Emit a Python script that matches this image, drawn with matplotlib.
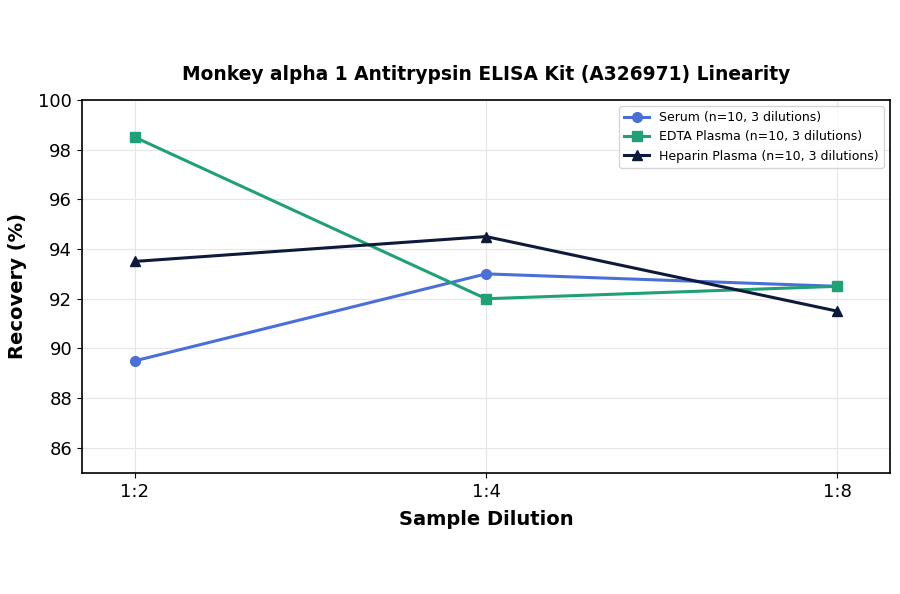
import matplotlib
matplotlib.use('Agg')
import matplotlib.pyplot as plt

dilutions = ['1:2', '1:4', '1:8']
serum = [89.5, 93.0, 92.5]
edta = [98.5, 92.0, 92.5]
heparin = [93.5, 94.5, 91.5]

fig = plt.figure(figsize=(9, 5.94), dpi=100)
ax = fig.add_axes([0.091, 0.204, 0.898, 0.628])

x = range(len(dilutions))
ax.plot(x, serum, color='#4a6fd9', marker='o', markersize=7, linewidth=2.2,
        label='Serum (n=10, 3 dilutions)')
ax.plot(x, edta, color='#20a077', marker='s', markersize=7, linewidth=2.2,
        label='EDTA Plasma (n=10, 3 dilutions)')
ax.plot(x, heparin, color='#0e1a3c', marker='^', markersize=7, linewidth=2.2,
        label='Heparin Plasma (n=10, 3 dilutions)')

ax.set_xticks(list(x))
ax.set_xticklabels(dilutions)
ax.set_xlim(-0.15, 2.15)
ax.set_ylim(85, 100)
ax.set_yticks([86, 88, 90, 92, 94, 96, 98, 100])
ax.tick_params(labelsize=13)
ax.grid(True, color='#e6e6e6', linewidth=0.8)
ax.set_axisbelow(True)
for s in ax.spines.values():
    s.set_linewidth(1.2)

ax.set_title('Monkey alpha 1 Antitrypsin ELISA Kit (A326971) Linearity',
             fontsize=13.4, fontweight='bold', pad=14)
ax.set_xlabel('Sample Dilution', fontsize=14, fontweight='bold', labelpad=7)
ax.set_ylabel('Recovery (%)', fontsize=14, fontweight='bold', labelpad=8)
ax.legend(loc='upper right', fontsize=9)

fig.savefig('out.png', dpi=100)
